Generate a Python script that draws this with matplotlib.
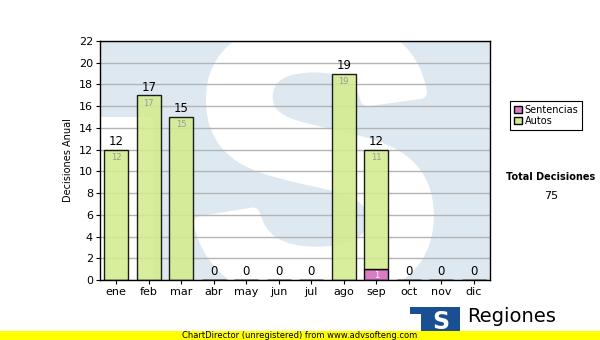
import numpy as np
import matplotlib.pyplot as plt
import matplotlib.patheffects as pe
from matplotlib.patches import Patch, Rectangle

# ---------- Data ----------
months = ["ene", "feb", "mar", "abr", "may", "jun",
          "jul", "ago", "sep", "oct", "nov", "dic"]
autos = [12, 17, 15, 0, 0, 0, 0, 19, 11, 0, 0, 0]
sentencias = [0, 0, 0, 0, 0, 0, 0, 0, 1, 0, 0, 0]
yticks = list(range(0, 23, 2))

# ---------- Colours ----------
GREEN = "#d3ec8e"
PINK = "#d97cc4"
WATERMARK = "#dee8f1"
LOGO_BLUE = "#1b4f93"

plt.rcParams["font.family"] = ["DejaVu Sans"]

fig = plt.figure(figsize=(6, 3.4), dpi=100)
ax = fig.add_axes([100 / 600, 1 - 280 / 340, 390 / 600, 239 / 340])
ax.set_facecolor(WATERMARK)

# watermark: faded "TS" logo -> white strip left of the T stem, big white "S"
ax.add_patch(Rectangle((0, 0), 0.136, 0.68, transform=ax.transAxes,
                       facecolor="white", edgecolor="none", zorder=0))
ax.text(0.553, -0.045, "S", transform=ax.transAxes, ha="center",
        va="baseline", fontsize=272, fontweight="bold",
        family="Liberation Sans", color="white", clip_on=True, zorder=0,
        path_effects=[pe.Stroke(linewidth=10, foreground="white"),
                      pe.Normal()])

x = np.arange(len(months))
totals = [a + s for a, s in zip(autos, sentencias)]

ax.bar(x, sentencias, width=0.74, color=PINK, edgecolor="black",
       linewidth=1, zorder=3)
ax.bar(x, autos, width=0.74, bottom=sentencias, color=GREEN, alpha=0.88,
       edgecolor="black", linewidth=1, zorder=3)

for i, t in enumerate(totals):
    ax.text(x[i], t + 0.15, str(t), ha="center", va="bottom",
            fontsize=8.5, color="black", zorder=5)
    if autos[i] > 0:
        ax.text(x[i], sentencias[i] + autos[i] - 0.3, str(autos[i]),
                ha="center", va="top", fontsize=6, color="#999999", zorder=5)
    if sentencias[i] > 0:
        ax.text(x[i], sentencias[i] - 0.15, str(sentencias[i]),
                ha="center", va="top", fontsize=6, color="white", zorder=5)

ax.set_xlim(-0.5, 11.5)
ax.set_ylim(0, 22)
ax.set_yticks(yticks)
ax.set_xticks(x)
ax.set_xticklabels(months)
ax.tick_params(labelsize=8, length=3, width=0.8, pad=2)
ax.yaxis.grid(True, color="#b4b4b4", linewidth=1, zorder=1)
ax.set_axisbelow(True)
for s in ax.spines.values():
    s.set_linewidth(1)
    s.set_zorder(6)
ax.set_ylabel("Decisiones Anual", fontsize=7, labelpad=4)

# ---------- Legend ----------
handles = [Patch(facecolor=PINK, edgecolor="black", label="Sentencias"),
           Patch(facecolor=GREEN, edgecolor="black", label="Autos")]
leg = fig.legend(handles=handles, loc="upper left",
                 bbox_to_anchor=(510 / 600, 1 - 101 / 340), borderaxespad=0,
                 fontsize=7, handlelength=0.8, handleheight=0.8,
                 handletextpad=0.3, labelspacing=0.1, borderpad=0.4,
                 fancybox=False, edgecolor="black", framealpha=1)
leg.get_frame().set_linewidth(0.8)

fig.text(551 / 600, 1 - 177 / 340, "Total Decisiones", ha="center",
         va="center", fontsize=7, fontweight="bold")
fig.text(551 / 600, 1 - 196 / 340, "75", ha="center", va="center",
         fontsize=8)

# ---------- Logo ----------
fig.patches.append(Rectangle((410 / 600, 1 - 331 / 340), 50 / 600, 24 / 340,
                             transform=fig.transFigure, facecolor=LOGO_BLUE,
                             edgecolor="none", zorder=1))
fig.patches.append(Rectangle((410 / 600, 1 - 331 / 340), 11 / 600, 17 / 340,
                             transform=fig.transFigure, facecolor="white",
                             edgecolor="none", zorder=1))
fig.text(441 / 600, 1 - 322 / 340, "S", ha="center", va="center",
         fontsize=17, fontweight="bold", color="white", zorder=2)
fig.text(467 / 600, 1 - 316 / 340, "Regiones", ha="left", va="center",
         fontsize=14, color="black")
fig.text(467 / 600, 1 - 335 / 340, "Tribunal Supremo de Justicia",
         ha="left", va="center", fontsize=6, color="black", zorder=1)

# ---------- Footer ----------
fig.patches.append(Rectangle((0, 0), 1, 9 / 340, transform=fig.transFigure,
                             facecolor="#ffff00", edgecolor="none", zorder=3))
fig.text(0.5, 4.5 / 340, "ChartDirector (unregistered) from www.advsofteng.com",
         ha="center", va="center", fontsize=6, zorder=4)

fig.savefig("out.png", dpi=100)
